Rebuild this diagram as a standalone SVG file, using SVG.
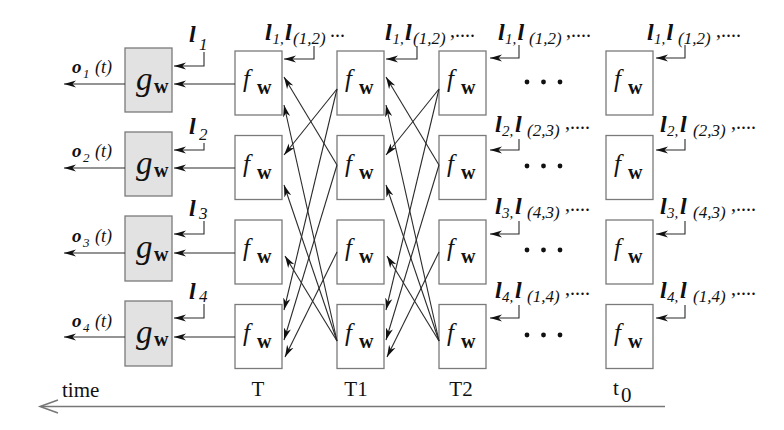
<svg xmlns="http://www.w3.org/2000/svg" width="784" height="430" viewBox="0 0 784 430">
<defs>
<marker id="ah" markerWidth="13" markerHeight="10" viewBox="-12 -5 13 10" refX="0" refY="0" orient="auto" markerUnits="userSpaceOnUse">
<path d="M0,0 L-12,-3.6 L-8.5,0 L-12,3.6 Z" fill="#111"/>
</marker>
<style>
.bx{fill:#fff;stroke:#7a7a7a;stroke-width:1.3}
.gb{fill:#e2e2e2;stroke:#7a7a7a;stroke-width:1.3}
.ln{stroke:#2a2a2a;stroke-width:1.1;fill:none;marker-end:url(#ah)}
.ax{stroke:#777;stroke-width:1.5;fill:none}
text{font-family:"Liberation Serif","Times New Roman",serif;fill:#111}
.f{font-style:italic;font-size:25px}
.w{font-weight:bold;font-size:20px}
.g{font-style:italic;font-size:33px}
.L{font-weight:bold;font-style:italic;font-size:24px}
.s{font-style:italic;font-size:17px}
.n{font-style:italic;font-size:15px}
.d{font-size:20px}
.o{font-weight:bold;font-style:italic;font-size:19px}
.os{font-style:italic;font-size:13px}
.ot{font-style:italic;font-size:18px}
.b{font-size:21px}
</style>
</defs>

<!-- output labels -->
<g id="outputs">
<text><tspan class="o" x="72" y="73">o</tspan><tspan class="os" x="83" y="78">1</tspan><tspan class="ot" x="95" y="73">(t)</tspan></text>
<text><tspan class="o" x="72" y="157">o</tspan><tspan class="os" x="83" y="162">2</tspan><tspan class="ot" x="95" y="157">(t)</tspan></text>
<text><tspan class="o" x="72" y="242">o</tspan><tspan class="os" x="83" y="247">3</tspan><tspan class="ot" x="95" y="242">(t)</tspan></text>
<text><tspan class="o" x="72" y="327">o</tspan><tspan class="os" x="83" y="332">4</tspan><tspan class="ot" x="95" y="327">(t)</tspan></text>
</g>

<!-- g nodes -->
<g id="g1"><rect class="gb" x="125" y="48" width="47" height="64"/><text><tspan class="g" x="136" y="90">g</tspan><tspan class="w" x="154" y="93">w</tspan></text>
<text><tspan class="L" x="189" y="42">l</tspan><tspan class="s" x="199" y="50">1</tspan></text></g>
<g id="g2"><rect class="gb" x="125" y="132" width="47" height="64"/><text><tspan class="g" x="136" y="174">g</tspan><tspan class="w" x="154" y="177">w</tspan></text>
<text><tspan class="L" x="189" y="134">l</tspan><tspan class="s" x="199" y="140">2</tspan></text></g>
<g id="g3"><rect class="gb" x="125" y="216" width="47" height="65"/><text><tspan class="g" x="136" y="258">g</tspan><tspan class="w" x="154" y="261">w</tspan></text>
<text><tspan class="L" x="189" y="216">l</tspan><tspan class="s" x="199" y="219">3</tspan></text></g>
<g id="g4"><rect class="gb" x="125" y="301" width="47" height="65"/><text><tspan class="g" x="136" y="343">g</tspan><tspan class="w" x="154" y="346">w</tspan></text>
<text><tspan class="L" x="189" y="299">l</tspan><tspan class="s" x="199" y="302">4</tspan></text></g>

<!-- f nodes, column T -->
<g id="fT1"><rect class="bx" x="235" y="51" width="47" height="64"/><text><tspan class="f" x="243" y="87">f</tspan><tspan class="w" x="257" y="94">w</tspan></text>
<text><tspan class="L" x="265" y="40">l</tspan><tspan class="n" x="272.5" y="44">1,</tspan><tspan class="L" x="285" y="40">l</tspan><tspan class="s" x="293" y="44">(1,2)</tspan><tspan class="d" x="330" y="37">...</tspan></text></g>
<g id="fT2"><rect class="bx" x="235" y="135.5" width="47" height="64"/><text><tspan class="f" x="243" y="171.5">f</tspan><tspan class="w" x="257" y="178.5">w</tspan></text></g>
<g id="fT3"><rect class="bx" x="235" y="220" width="47" height="64"/><text><tspan class="f" x="243" y="256">f</tspan><tspan class="w" x="257" y="263">w</tspan></text></g>
<g id="fT4"><rect class="bx" x="235" y="304.5" width="47" height="64"/><text><tspan class="f" x="243" y="340.5">f</tspan><tspan class="w" x="257" y="347.5">w</tspan></text></g>

<!-- f nodes, column T1 -->
<g id="fT1_1"><rect class="bx" x="337" y="51" width="47" height="64"/><text><tspan class="f" x="345" y="87">f</tspan><tspan class="w" x="359" y="94">w</tspan></text>
<text><tspan class="L" x="385" y="40">l</tspan><tspan class="n" x="392.5" y="44">1,</tspan><tspan class="L" x="405" y="40">l</tspan><tspan class="s" x="413" y="44">(1,2)</tspan><tspan class="d" x="450" y="37">,....</tspan></text></g>
<g id="fT1_2"><rect class="bx" x="337" y="135.5" width="47" height="64"/><text><tspan class="f" x="345" y="171.5">f</tspan><tspan class="w" x="359" y="178.5">w</tspan></text></g>
<g id="fT1_3"><rect class="bx" x="337" y="220" width="47" height="64"/><text><tspan class="f" x="345" y="256">f</tspan><tspan class="w" x="359" y="263">w</tspan></text></g>
<g id="fT1_4"><rect class="bx" x="337" y="304.5" width="47" height="64"/><text><tspan class="f" x="345" y="340.5">f</tspan><tspan class="w" x="359" y="347.5">w</tspan></text></g>

<!-- f nodes, column T2 -->
<g id="fT2_1"><rect class="bx" x="439" y="51" width="47" height="64"/><text><tspan class="f" x="447" y="87">f</tspan><tspan class="w" x="461" y="94">w</tspan></text>
<text><tspan class="L" x="498" y="40">l</tspan><tspan class="n" x="505" y="44">1,</tspan><tspan class="L" x="517.5" y="40">l</tspan><tspan class="s" x="529" y="44">(1,2)</tspan><tspan class="d" x="566" y="37">,....</tspan></text></g>
<g id="fT2_2"><rect class="bx" x="439" y="135.5" width="47" height="64"/><text><tspan class="f" x="447" y="171.5">f</tspan><tspan class="w" x="461" y="178.5">w</tspan></text>
<text><tspan class="L" x="495" y="132">l</tspan><tspan class="n" x="502" y="136">2,</tspan><tspan class="L" x="515" y="132">l</tspan><tspan class="s" x="527" y="136">(2,3)</tspan><tspan class="d" x="565" y="129">,....</tspan></text></g>
<g id="fT2_3"><rect class="bx" x="439" y="220" width="47" height="64"/><text><tspan class="f" x="447" y="256">f</tspan><tspan class="w" x="461" y="263">w</tspan></text>
<text><tspan class="L" x="495" y="214">l</tspan><tspan class="n" x="502" y="218">3,</tspan><tspan class="L" x="515" y="214">l</tspan><tspan class="s" x="527" y="218">(4,3)</tspan><tspan class="d" x="565" y="211">,....</tspan></text></g>
<g id="fT2_4"><rect class="bx" x="439" y="304.5" width="47" height="64"/><text><tspan class="f" x="447" y="340.5">f</tspan><tspan class="w" x="461" y="347.5">w</tspan></text>
<text><tspan class="L" x="495" y="298">l</tspan><tspan class="n" x="502" y="302">4,</tspan><tspan class="L" x="515" y="298">l</tspan><tspan class="s" x="527" y="302">(1,4)</tspan><tspan class="d" x="565" y="295">,....</tspan></text></g>

<!-- f nodes, column t0 -->
<g id="ft0_1"><rect class="bx" x="606" y="51" width="47" height="64"/><text><tspan class="f" x="614" y="87">f</tspan><tspan class="w" x="628" y="94">w</tspan></text>
<text><tspan class="L" x="647" y="40">l</tspan><tspan class="n" x="654" y="44">1,</tspan><tspan class="L" x="666.5" y="40">l</tspan><tspan class="s" x="678" y="44">(1,2)</tspan><tspan class="d" x="716" y="37">,....</tspan></text></g>
<g id="ft0_2"><rect class="bx" x="606" y="135.5" width="47" height="64"/><text><tspan class="f" x="614" y="171.5">f</tspan><tspan class="w" x="628" y="178.5">w</tspan></text>
<text><tspan class="L" x="660" y="132">l</tspan><tspan class="n" x="667" y="136">2,</tspan><tspan class="L" x="680" y="132">l</tspan><tspan class="s" x="693" y="136">(2,3)</tspan><tspan class="d" x="731" y="129">,....</tspan></text></g>
<g id="ft0_3"><rect class="bx" x="606" y="220" width="47" height="64"/><text><tspan class="f" x="614" y="256">f</tspan><tspan class="w" x="628" y="263">w</tspan></text>
<text><tspan class="L" x="660" y="214">l</tspan><tspan class="n" x="667" y="218">3,</tspan><tspan class="L" x="680" y="214">l</tspan><tspan class="s" x="693" y="218">(4,3)</tspan><tspan class="d" x="731" y="211">,....</tspan></text></g>
<g id="ft0_4"><rect class="bx" x="606" y="304.5" width="47" height="64"/><text><tspan class="f" x="614" y="340.5">f</tspan><tspan class="w" x="628" y="347.5">w</tspan></text>
<text><tspan class="L" x="660" y="298">l</tspan><tspan class="n" x="667" y="302">4,</tspan><tspan class="L" x="680" y="298">l</tspan><tspan class="s" x="693" y="302">(1,4)</tspan><tspan class="d" x="731" y="295">,....</tspan></text></g>

<!-- ellipsis dots -->
<g id="dots" fill="#111">
<circle cx="527" cy="82" r="2.4"/><circle cx="543.5" cy="82" r="2.4"/><circle cx="560" cy="82" r="2.4"/>
<circle cx="527" cy="166" r="2.4"/><circle cx="543.5" cy="166" r="2.4"/><circle cx="560" cy="166" r="2.4"/>
<circle cx="527" cy="250" r="2.4"/><circle cx="543.5" cy="250" r="2.4"/><circle cx="560" cy="250" r="2.4"/>
<circle cx="527" cy="335" r="2.4"/><circle cx="543.5" cy="335" r="2.4"/><circle cx="560" cy="335" r="2.4"/>
</g>

<!-- connectors -->
<g id="connectors">
<line class="ln" x1="125" y1="84" x2="64" y2="84"/>
<line class="ln" x1="125" y1="168" x2="64" y2="168"/>
<line class="ln" x1="125" y1="253" x2="64" y2="253"/>
<line class="ln" x1="125" y1="337" x2="64" y2="337"/>
<line class="ln" x1="235" y1="84" x2="174" y2="84"/>
<line class="ln" x1="235" y1="168" x2="174" y2="168"/>
<line class="ln" x1="235" y1="253" x2="174" y2="253"/>
<line class="ln" x1="235" y1="337" x2="174" y2="337"/>
<polyline class="ln" points="204,52 204,66 174,66"/>
<polyline class="ln" points="204,143 204,150 174,150"/>
<polyline class="ln" points="204,221 204,234 174,234"/>
<polyline class="ln" points="204,304 204,318 174,318"/>
<polyline class="ln" points="314,46 314,59 284,59"/>
<polyline class="ln" points="417,46 417,59 386,59"/>
<polyline class="ln" points="519,45 519,58 490,58"/>
<polyline class="ln" points="685,45 685,58 656,58"/>
<polyline class="ln" points="519,139 519,150 490,150"/>
<polyline class="ln" points="685,139 685,150 656,150"/>
<polyline class="ln" points="519,221 519,234 490,234"/>
<polyline class="ln" points="685,221 685,234 656,234"/>
<polyline class="ln" points="519,305 519,318 490,318"/>
<polyline class="ln" points="685,305 685,318 656,318"/>
<line class="ln" x1="337" y1="89" x2="284" y2="155"/>
<line class="ln" x1="337" y1="89" x2="284" y2="310"/>
<line class="ln" x1="337" y1="165" x2="284" y2="77"/>
<line class="ln" x1="337" y1="165" x2="284" y2="340"/>
<line class="ln" x1="337" y1="252" x2="285" y2="357"/>
<line class="ln" x1="337" y1="341" x2="284" y2="105"/>
<line class="ln" x1="337" y1="341" x2="284" y2="185"/>
<line class="ln" x1="337" y1="341" x2="285" y2="256"/>
<line class="ln" x1="439" y1="89" x2="386" y2="155"/>
<line class="ln" x1="439" y1="89" x2="386" y2="310"/>
<line class="ln" x1="439" y1="165" x2="386" y2="77"/>
<line class="ln" x1="439" y1="165" x2="386" y2="340"/>
<line class="ln" x1="439" y1="252" x2="387" y2="357"/>
<line class="ln" x1="439" y1="341" x2="386" y2="105"/>
<line class="ln" x1="439" y1="341" x2="386" y2="185"/>
<line class="ln" x1="439" y1="341" x2="387" y2="256"/>
</g>

<!-- time axis -->
<g id="timeaxis">
<line class="ax" x1="41" y1="406.5" x2="665" y2="406.5"/>
<polyline class="ax" points="58,400 40,406.5 58,413"/>
<text class="b" x="62" y="397">time</text>
<text class="b" x="258" y="396" text-anchor="middle">T</text>
<text class="b" x="356" y="396" text-anchor="middle">T1</text>
<text class="b" x="461" y="396" text-anchor="middle">T2</text>
<text><tspan class="b" x="613" y="395">t</tspan><tspan class="b" x="621" y="402">0</tspan></text>
</g>
</svg>
